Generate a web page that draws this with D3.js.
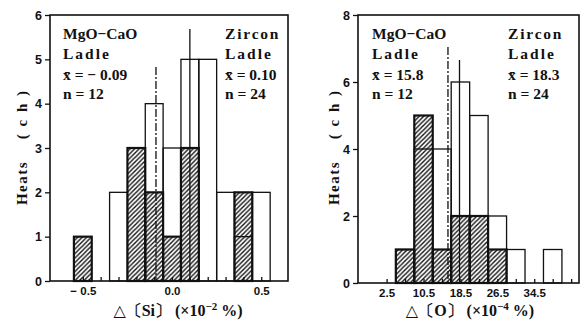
<!DOCTYPE html>
<html>
<head>
<meta charset="utf-8">
<script src="https://cdn.jsdelivr.net/npm/d3@7"></script>
<style>
  body { margin: 0; background: #fff; }
  svg { display: block; }
  text { font-family: "Liberation Serif", "DejaVu Serif", serif; font-weight: bold; fill: #111; }
  .tick text { font-family: "Liberation Sans Narrow", "Liberation Sans", sans-serif; font-stretch: condensed; }
</style>
</head>
<body>
<script>
// left panel: delta Si, bins of 0.1
var siBins = [-0.5, -0.4, -0.3, -0.2, -0.1, 0.0, 0.1, 0.2, 0.3, 0.4, 0.5];
var siZircon = [0, 0, 2, 0, 4, 3, 5, 5, 2, 1, 2];
var siMgo = [1, 0, 0, 3, 2, 1, 3, 0, 0, 2, 0];
var siXLabels = [-0.5, 0.0, 0.5];
var siYTicks = [0, 1, 2, 3, 4, 5, 6];
var siMeans = [-0.09, 0.10];   // MgO-CaO, Zircon
var siN = [12, 24];

// right panel: delta O, bins of 4
var oBins = [2.5, 6.5, 10.5, 14.5, 18.5, 22.5, 26.5, 30.5, 34.5, 38.5, 42.5];
var oZircon = [0, 1, 4, 4, 6, 5, 2, 1, 0, 1, 0];
var oMgo = [0, 1, 5, 1, 2, 2, 1, 0, 0, 0, 0];
var oXLabels = [2.5, 10.5, 18.5, 26.5, 34.5];
var oYTicks = [0, 2, 4, 6, 8];
var oMeans = [15.8, 18.3];
var oN = [12, 24];

var svg = d3.select("body").append("svg")
  .attr("width", 584)
  .attr("height", 320);

var defs = svg.append("defs");
defs.append("pattern")
  .attr("id", "hatch")
  .attr("patternUnits", "userSpaceOnUse")
  .attr("width", 4.5)
  .attr("height", 4.5)
  .append("path")
  .attr("d", "M-1,1 l2,-2 M0,4.5 l4.5,-4.5 M3.5,5.5 l2,-2")
  .attr("stroke", "#111")
  .attr("stroke-width", 1.4);

var panels = [
  {
    bins: siBins, zircon: siZircon, mgo: siMgo, width: 0.1,
    xLabels: siXLabels, yTicks: siYTicks, means: siMeans, n: siN,
    xDomain: [-0.684, 0.65], xRange: [50, 288],
    yDomain: [0, 6], yRange: [281, 15],
    fmt: d => d < 0 ? "\u2212 " + d3.format(".1f")(-d) : d3.format(".1f")(d),
    meanFmt: d => d < 0 ? "\u2212 " + d3.format(".2f")(-d) : d3.format(".2f")(d),
    meanTop: [67, 29],
    textX: [63, 225],
    ylabX: 22,
    xlab: ["\u25B3\u3014Si\u3015 (\u00D710", "\u22122", " %)"],
    xlabX: 178
  },
  {
    bins: oBins, zircon: oZircon, mgo: oMgo, width: 4,
    xLabels: oXLabels, yTicks: oYTicks, means: oMeans, n: oN,
    xDomain: [-3.7, 44.2], xRange: [358, 579],
    yDomain: [0, 8], yRange: [283, 15],
    fmt: d3.format(".1f"),
    meanFmt: d3.format(".1f"),
    meanTop: [47, 60],
    textX: [372, 508],
    ylabX: 334,
    xlab: ["\u25B3\u3014O\u3015 (\u00D710", "\u22124", " %)"],
    xlabX: 470
  }
];

panels.forEach(function(p) {
  var x = d3.scaleLinear().domain(p.xDomain).range(p.xRange);
  var y = d3.scaleLinear().domain(p.yDomain).range(p.yRange);
  var g = svg.append("g");

  var idx = d3.range(p.bins.length);

  // open bars (Zircon ladle), white fill first
  g.selectAll(".openfill").data(idx.filter(i => p.zircon[i] > 0))
    .enter().append("rect")
    .attr("x", i => x(p.bins[i] - p.width / 2))
    .attr("y", i => y(p.zircon[i]))
    .attr("width", x(p.width) - x(0))
    .attr("height", i => y(0) - y(p.zircon[i]))
    .attr("fill", "#fff");

  // hatched bars (MgO-CaO ladle)
  g.selectAll(".hatched").data(idx.filter(i => p.mgo[i] > 0))
    .enter().append("rect")
    .attr("x", i => x(p.bins[i] - p.width / 2))
    .attr("y", i => y(p.mgo[i]))
    .attr("width", x(p.width) - x(0))
    .attr("height", i => y(0) - y(p.mgo[i]))
    .attr("fill", "url(#hatch)")
    .attr("stroke", "#111")
    .attr("stroke-width", 2.2);

  // open bar outlines on top
  g.selectAll(".openline").data(idx.filter(i => p.zircon[i] > 0))
    .enter().append("rect")
    .attr("x", i => x(p.bins[i] - p.width / 2))
    .attr("y", i => y(p.zircon[i]))
    .attr("width", x(p.width) - x(0))
    .attr("height", i => y(0) - y(p.zircon[i]))
    .attr("fill", "none")
    .attr("stroke", "#111")
    .attr("stroke-width", 1.3);

  // mean lines: dash-dot for MgO-CaO, solid for Zircon
  p.means.forEach(function(m, k) {
    g.append("line")
      .attr("x1", x(m)).attr("x2", x(m))
      .attr("y1", p.meanTop[k]).attr("y2", y(0))
      .attr("stroke", "#111")
      .attr("stroke-width", 1.3)
      .attr("stroke-dasharray", k == 0 ? "8,2,2,2" : null);
  });

  // frame
  g.append("rect")
    .attr("x", p.xRange[0]).attr("y", p.yRange[1])
    .attr("width", p.xRange[1] - p.xRange[0])
    .attr("height", p.yRange[0] - p.yRange[1])
    .attr("fill", "none")
    .attr("stroke", "#111")
    .attr("stroke-width", 1.6);

  // y axis
  var ya = g.append("g")
    .attr("transform", `translate(${p.xRange[0]},0)`)
    .call(d3.axisLeft(y).tickValues(p.yTicks).tickSize(5).tickPadding(3).tickFormat(d3.format("d")));
  ya.select(".domain").remove();
  ya.selectAll("line").attr("stroke", "#111").attr("stroke-width", 1.3);
  ya.selectAll("text").attr("font-size", 12.5);

  // x axis, inward ticks at each bin, labels on some
  var xa = g.append("g")
    .attr("transform", `translate(0,${y(0)})`)
    .call(d3.axisBottom(x).tickValues(p.bins).tickSize(-4).tickPadding(6)
      .tickFormat(d => p.xLabels.some(v => Math.abs(v - d) < 1e-9) ? p.fmt(d) : ""));
  xa.select(".domain").remove();
  xa.selectAll("line").attr("stroke", "#111").attr("stroke-width", 1.3);
  xa.selectAll("text").attr("font-size", 11.5);

  // annotations
  var names = [["MgO\u2212CaO", "Ladle", 0], ["Zircon", "Ladle", 1.8]];
  names.forEach(function(nm, k) {
    var t = g.append("text").attr("font-size", 15.5);
    t.append("tspan").attr("x", p.textX[k]).attr("y", 39).attr("letter-spacing", nm[2]).text(nm[0]);
    t.append("tspan").attr("x", p.textX[k]).attr("y", 59).attr("letter-spacing", 2).text(nm[1]);
    t.append("tspan").attr("x", p.textX[k]).attr("y", 80).attr("letter-spacing", 0).text("x\u0304 = " + p.meanFmt(p.means[k]));
    t.append("tspan").attr("x", p.textX[k]).attr("y", 99).text("n = " + p.n[k]);
  });

  // y label
  g.append("text")
    .attr("transform", `translate(${p.ylabX + 5},183) rotate(-90)`)
    .attr("text-anchor", "middle")
    .attr("font-size", 15)
    .attr("letter-spacing", 1.5)
    .text("Heats");
  g.append("text")
    .attr("transform", `translate(${p.ylabX + 5},114) rotate(-90)`)
    .attr("text-anchor", "middle")
    .attr("font-size", 15)
    .attr("letter-spacing", 2)
    .text("( c h )");

  // x label
  var xl = g.append("text")
    .attr("x", p.xlabX).attr("y", 316)
    .attr("text-anchor", "middle")
    .attr("font-size", 16);
  xl.append("tspan").text(p.xlab[0]);
  xl.append("tspan").attr("dy", -6).attr("font-size", 11).text(p.xlab[1]);
  xl.append("tspan").attr("dy", 6).text(p.xlab[2]);
});
</script>
</body>
</html>
